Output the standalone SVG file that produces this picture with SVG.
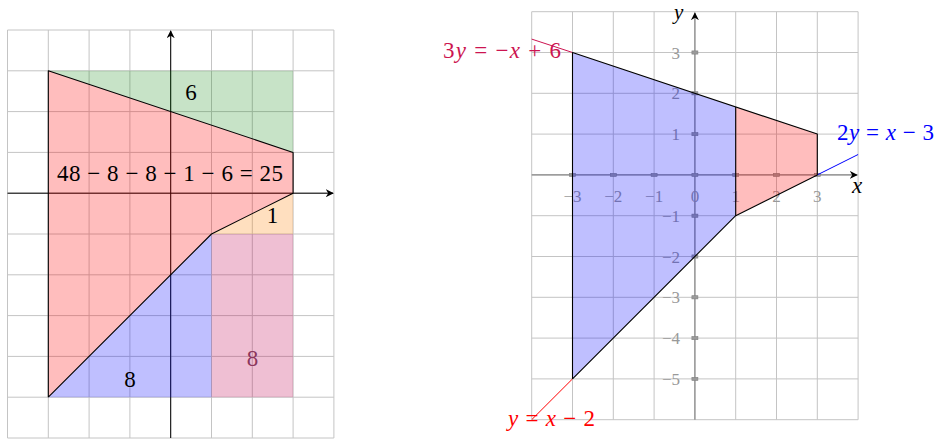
<svg xmlns="http://www.w3.org/2000/svg" width="935" height="439" viewBox="0 0 935 439">
<defs>
<marker id="arr" viewBox="0 0 10 10" refX="9" refY="5" markerWidth="8" markerHeight="8" markerUnits="userSpaceOnUse" orient="auto">
<path d="M0,0 L10,5 L0,10 L3,5 Z" fill="#000"/>
</marker>
</defs>
<style>
.grid{stroke:#c4c4c4;stroke-width:1;fill:none}
.edge{stroke:#000;stroke-width:1.1;fill:none;stroke-linejoin:round}
.tm{fill:#9a9a9a;stroke:#808080;stroke-width:0.6}
</style>
<g id="left-grid">
<path class="grid" d="M7.5,30V438M48.3,30V438M89.1,30V438M129.9,30V438M170.7,30V438M211.5,30V438M252.3,30V438M293.1,30V438M333.9,30V438M7.5,30H333.9M7.5,70.8H333.9M7.5,111.6H333.9M7.5,152.4H333.9M7.5,193.2H333.9M7.5,234H333.9M7.5,274.8H333.9M7.5,315.6H333.9M7.5,356.4H333.9M7.5,397.2H333.9M7.5,438H333.9"/>
</g>
<g id="connectors">
<line x1="7.5" y1="193.2" x2="333" y2="193.2" stroke="#000" stroke-width="1" marker-end="url(#arr)"/>
<line x1="170.7" y1="438" x2="170.7" y2="31" stroke="#000" stroke-width="1" marker-end="url(#arr)"/>
</g>
<text font-family="Liberation Serif, serif" font-size="23" x="252.4" y="366" text-anchor="middle" fill="#7a4a62">8</text>
<g id="left-regions">
<polygon id="red-region" points="48.3,70.8 293.1,152.4 293.1,193.2 211.5,234 48.3,397.2" fill="#ff0000" fill-opacity="0.26"/>
<polygon id="green-region" points="48.3,70.8 293.1,70.8 293.1,152.4" fill="#008000" fill-opacity="0.22"/>
<polygon id="blue-region" points="48.3,397.2 211.5,234 211.5,397.2" fill="#0000ff" fill-opacity="0.25"/>
<polygon id="orange-region" points="211.5,234 293.1,193.2 293.1,234" fill="#ff8000" fill-opacity="0.25"/>
<rect id="pink-region" x="211.5" y="234" width="81.6" height="163.2" fill="#c00050" fill-opacity="0.25"/>
<polyline class="edge" points="48.3,397.2 48.3,70.8 293.1,152.4 293.1,193.2 211.5,234 48.3,397.2"/>
</g>
<g id="left-labels" font-family="Liberation Serif, serif" font-size="23" fill="#000">
<text x="191" y="100" text-anchor="middle">6</text>
<text x="57" y="180.5" textLength="226" lengthAdjust="spacing">48 − 8 − 8 − 1 − 6 = 25</text>
<text x="272.5" y="222.5" text-anchor="middle">1</text>
<text x="130" y="386.5" text-anchor="middle">8</text>
</g>
<g id="right-grid">
<path class="grid" d="M531.7,11.7V419.7M572.5,11.7V419.7M613.3,11.7V419.7M654.1,11.7V419.7M694.9,11.7V419.7M735.7,11.7V419.7M776.5,11.7V419.7M817.3,11.7V419.7M858.1,11.7V419.7M531.7,11.7H858.1M531.7,52.5H858.1M531.7,93.3H858.1M531.7,134.1H858.1M531.7,174.9H858.1M531.7,215.7H858.1M531.7,256.5H858.1M531.7,297.3H858.1M531.7,338.1H858.1M531.7,378.9H858.1M531.7,419.7H858.1"/>
</g>
<g id="right-axes">
<line x1="531.7" y1="174.9" x2="857" y2="174.9" stroke="#888" stroke-width="1.2" marker-end="url(#arr)"/>
<line x1="694.9" y1="419.7" x2="694.9" y2="13" stroke="#888" stroke-width="1.2" marker-end="url(#arr)"/>
<g id="ticks">
<rect class="tm" x="569.5" y="173.3" width="6" height="3.2"/>
<rect class="tm" x="610.3" y="173.3" width="6" height="3.2"/>
<rect class="tm" x="651.1" y="173.3" width="6" height="3.2"/>
<rect class="tm" x="691.9" y="173.3" width="6" height="3.2"/>
<rect class="tm" x="732.7" y="173.3" width="6" height="3.2"/>
<rect class="tm" x="773.5" y="173.3" width="6" height="3.2"/>
<rect class="tm" x="814.3" y="173.3" width="6" height="3.2"/>
<rect class="tm" x="691.9" y="50.9" width="6" height="3.2"/>
<rect class="tm" x="691.9" y="91.7" width="6" height="3.2"/>
<rect class="tm" x="691.9" y="132.5" width="6" height="3.2"/>
<rect class="tm" x="691.9" y="214.1" width="6" height="3.2"/>
<rect class="tm" x="691.9" y="254.9" width="6" height="3.2"/>
<rect class="tm" x="691.9" y="295.7" width="6" height="3.2"/>
<rect class="tm" x="691.9" y="336.5" width="6" height="3.2"/>
<rect class="tm" x="691.9" y="377.3" width="6" height="3.2"/>
</g>
<g id="tick-labels" font-family="Liberation Serif, serif" font-size="17" fill="#999">
<text x="572.5" y="201.8" text-anchor="middle">−3</text>
<text x="613.3" y="201.8" text-anchor="middle">−2</text>
<text x="654.1" y="201.8" text-anchor="middle">−1</text>
<text x="694.9" y="201.8" text-anchor="middle">0</text>
<text x="735.7" y="201.8" text-anchor="middle">1</text>
<text x="776.5" y="201.8" text-anchor="middle">2</text>
<text x="817.3" y="201.8" text-anchor="middle">3</text>
<text x="680" y="58.5" text-anchor="end">3</text>
<text x="680" y="99.3" text-anchor="end">2</text>
<text x="680" y="140.1" text-anchor="end">1</text>
<text x="680" y="221.7" text-anchor="end">−1</text>
<text x="680" y="262.5" text-anchor="end">−2</text>
<text x="680" y="303.3" text-anchor="end">−3</text>
<text x="680" y="344.1" text-anchor="end">−4</text>
<text x="680" y="384.9" text-anchor="end">−5</text>
</g>
<text font-family="Liberation Serif, serif" font-size="23" font-style="italic" x="852" y="193">x</text>
<text font-family="Liberation Serif, serif" font-size="21" font-style="italic" x="674" y="19">y</text>
</g>
<g id="right-regions">
<polygon id="blue-feasible" points="572.5,52.5 735.7,106.9 735.7,215.7 572.5,378.9" fill="#0000ff" fill-opacity="0.25"/>
<polygon id="red-feasible" points="735.7,106.9 817.3,134.1 817.3,174.9 735.7,215.7" fill="#ff0000" fill-opacity="0.26"/>
</g>
<g id="right-lines">
<line x1="531.7" y1="39.1" x2="572.5" y2="52.5" stroke="#cc1450" stroke-width="1"/>
<line x1="531.7" y1="419.7" x2="572.5" y2="378.9" stroke="#ff0000" stroke-width="1"/>
<line x1="817.3" y1="174.9" x2="858.1" y2="154.5" stroke="#0000ff" stroke-width="1"/>
<polyline class="edge" points="572.5,378.9 572.5,52.5 817.3,134.1 817.3,174.9 735.7,215.7 572.5,378.9"/>
<line class="edge" x1="735.7" y1="106.9" x2="735.7" y2="215.7"/>
</g>
<g id="line-labels" font-family="Liberation Serif, serif" font-size="23">
<text x="443" y="58" textLength="118" lengthAdjust="spacing" fill="#cc1450">3<tspan font-style="italic">y</tspan> = −<tspan font-style="italic">x</tspan> + 6</text>
<text x="508" y="426" textLength="87" lengthAdjust="spacing" fill="#ff0000"><tspan font-style="italic">y</tspan> = <tspan font-style="italic">x</tspan> − 2</text>
<text x="837" y="140" textLength="97" lengthAdjust="spacing" fill="#0000ff">2<tspan font-style="italic">y</tspan> = <tspan font-style="italic">x</tspan> − 3</text>
</g>
</svg>
